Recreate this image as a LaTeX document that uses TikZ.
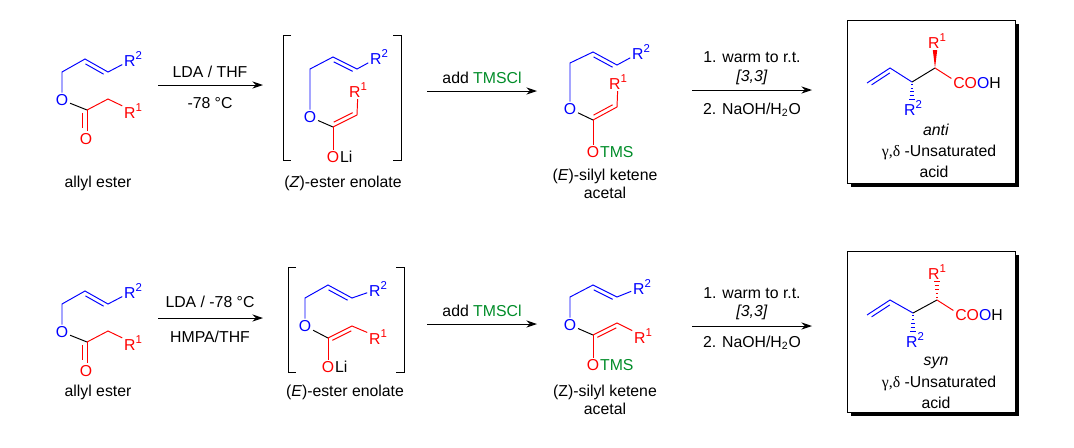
\documentclass[tikz,border=0pt]{standalone}
\usepackage{fontspec}
\setmainfont{Liberation Sans}
\newfontfamily\greekfont{Liberation Serif}
\usetikzlibrary{arrows.meta,calc,positioning}
\definecolor{rgrp}{RGB}{255,0,0}
\definecolor{bgrp}{RGB}{0,0,255}
\definecolor{tmsgrn}{RGB}{0,140,40}
% second line of a double bond: colour, from, to, side, other side
\newcommand{\dbond}[5]{\draw[#1,shorten <=1.6pt,shorten >=1.6pt] ($(#2)!2.3pt!#4:(#3)$) -- ($(#3)!2.3pt!#5:(#2)$);}
% superscript index of an R group
\newcommand{\rsup}[1]{\raisebox{0.8ex}{\fontsize{6.5}{7}\selectfont #1}}
\tikzset{
  atom/.style={inner sep=0.8pt},
  tail/.style={inner sep=0pt,anchor=base west},
  rxn/.style={-{Stealth[length=6pt,width=4pt]}},
}

\begin{document}
\begin{tikzpicture}[x=0.02cm,y=-0.02cm,line width=0.55pt,font=\fontsize{9}{10}\selectfont]
        \useasboundingbox (0,0) rectangle (1074,447);

        % ===== top row =====
        % allyl ester
        \node[atom,text=bgrp] (tAo) at (62,100) {O};
        \coordinate (tA1) at (62,72);
        \coordinate (tA2) at (85,59);
        \coordinate (tA3) at (108,72);
        \node[atom,text=bgrp] (tAr2) at (133,59) {R\rsup{2}};
        \coordinate (tAc) at (87,110);
        \coordinate (tA4) at (108,99);
        \node[atom,text=rgrp] (tAr1) at (133,111) {R\rsup{1}};
        \node[atom,text=rgrp] (tAco) at (86,139) {O};
        \coordinate (tAe) at (87,131);
        \draw[bgrp] (tAo) -- (tA1) -- (tA2) -- (tA3) -- (tAr2);
        \dbond{bgrp}{tA2}{tA3}{-90}{90}
        \draw (tAo) -- (tAc);
        \draw[rgrp] (tAc) -- (tA4) -- (tAr1);
        \draw[rgrp] (tAc) -- (tAe);
        \dbond{rgrp}{tAc}{tAe}{-90}{90}
        \node (tAlbl) at (98,183) {allyl ester};

        % arrow 1
        \coordinate (tR1s) at (158,85);
        \coordinate (tR1e) at (263,85);
        \draw[rxn] (tR1s) -- (tR1e);
        \node (tR1a) at (210,72) {LDA / THF};
        \node (tR1b) at (210,103) {-78 °C};

        % (Z)-ester enolate
        \draw (291,35) -- (283,35) -- (283,160) -- (291,160);
        \draw (393,35) -- (401,35) -- (401,160) -- (393,160);
        \coordinate (tB1) at (310,69);
        \coordinate (tB2) at (333,57);
        \coordinate (tB3) at (357,69);
        \node[atom,text=bgrp] (tBr2) at (379,57) {R\rsup{2}};
        \node[atom,text=bgrp] (tBo) at (310,117) {O};
        \coordinate (tBc) at (333,127);
        \coordinate (tB4) at (357,115);
        \node[atom,text=rgrp] (tBr1) at (358,90) {R\rsup{1}};
        \node[atom,text=rgrp] (tBol) at (333,157) {O};
        \node[tail] (tBli) at ([xshift=-0.8pt]tBol.base east) {Li};
        \draw[bgrp] (tBo) -- (tB1) -- (tB2) -- (tB3) -- (tBr2);
        \dbond{bgrp}{tB2}{tB3}{-90}{90}
        \draw (tBo) -- (tBc);
        \draw[rgrp] (tBc) -- (tB4) -- (tBr1);
        \dbond{rgrp}{tBc}{tB4}{90}{-90}
        \draw[rgrp] (tBc) -- (tBol);
        \node (tBlbl) at (343,183) {(\textit{Z})-ester enolate};

        % arrow 2
        \coordinate (tR2s) at (427,91);
        \coordinate (tR2e) at (537,91);
        \draw[rxn] (tR2s) -- (tR2e);
        \node (tR2a) at (482,78) {add \textcolor{tmsgrn}{TMSCl}};

        % (E)-silyl ketene acetal
        \coordinate (tC1) at (570,63);
        \coordinate (tC2) at (593,52);
        \coordinate (tC3) at (617,65);
        \node[atom,text=bgrp] (tCr2) at (641,52) {R\rsup{2}};
        \node[atom,text=bgrp] (tCo) at (570,109) {O};
        \coordinate (tCc) at (593,120);
        \coordinate (tC4) at (617,107);
        \node[atom,text=rgrp] (tCr1) at (618,82) {R\rsup{1}};
        \node[atom,text=rgrp] (tCol) at (593,152) {O};
        \node[tail,text=tmsgrn] (tCtms) at ([xshift=-0.8pt]tCol.base east) {TMS};
        \draw[bgrp] (tCo) -- (tC1) -- (tC2) -- (tC3) -- (tCr2);
        \dbond{bgrp}{tC2}{tC3}{-90}{90}
        \draw (tCo) -- (tCc);
        \draw[rgrp] (tCc) -- (tC4) -- (tCr1);
        \dbond{rgrp}{tCc}{tC4}{90}{-90}
        \draw[rgrp] (tCc) -- (tCol);
        \node[align=center] (tClbl) at (605,184) {(\textit{E})-silyl ketene\\acetal};

        % arrow 3
        \coordinate (tR3s) at (692,90);
        \coordinate (tR3e) at (812,90);
        \draw[rxn] (tR3s) -- (tR3e);
        \node (tR3a) at (752,57) {1. warm to r.t.};
        \node (tR3b) at (752,77) {\textit{[3,3]}};
        \node (tR3c) at (752,110) {2. NaOH/H\textsubscript{2}O};

        % anti product
        \fill (851,24) rectangle (1019,187);
        \draw[fill=white] (847,20) rectangle (1015,183);
        \coordinate (tDv1) at (867,83);
        \coordinate (tDv2) at (890,68);
        \coordinate (tD3) at (912,82);
        \coordinate (tD2) at (935,68);
        \node[atom] (tDacid) at (977,83) {\textcolor{rgrp}{CO}\textcolor{bgrp}{O}H};
        \coordinate (tDw) at (935,50);
        \node[atom,text=rgrp] (tDr1) at (937,41) {R\rsup{1}};
        \coordinate (tDh) at (912,100);
        \node[atom,text=bgrp] (tDr2) at (913,108) {R\rsup{2}};
        \draw[bgrp] (tDv1) -- (tDv2) -- (tD3);
        \dbond{bgrp}{tDv1}{tDv2}{-90}{90}
        \draw (tD3) -- (tD2);
        \draw[rgrp] (tD2) -- (tDacid.170);
        \fill[rgrp] (tD2) -- ($(tDw)+(-2.2,0)$) -- ($(tDw)+(2.2,0)$) -- cycle;
        \foreach \t/\w in {0.15/0.8,0.35/1.3,0.55/1.8,0.75/2.3,0.95/2.8} {
          \draw[bgrp] ($(tD3)!\t!(tDh)$) ++(-\w,0) -- ++(2*\w,0);
        }
        \node (tDa) at (936,130) {\textit{anti}};
        \node (tDb) at (939,152) {{\greekfont γ,δ} -Unsaturated};
        \node (tDc) at (934,172) {acid};

        % ===== bottom row =====
        % allyl ester
        \node[atom,text=bgrp] (bAo) at (62,332) {O};
        \coordinate (bA1) at (62,304);
        \coordinate (bA2) at (85,291);
        \coordinate (bA3) at (108,304);
        \node[atom,text=bgrp] (bAr2) at (133,291) {R\rsup{2}};
        \coordinate (bAc) at (87,342);
        \coordinate (bA4) at (108,331);
        \node[atom,text=rgrp] (bAr1) at (133,343) {R\rsup{1}};
        \node[atom,text=rgrp] (bAco) at (86,371) {O};
        \coordinate (bAe) at (87,363);
        \draw[bgrp] (bAo) -- (bA1) -- (bA2) -- (bA3) -- (bAr2);
        \dbond{bgrp}{bA2}{bA3}{-90}{90}
        \draw (bAo) -- (bAc);
        \draw[rgrp] (bAc) -- (bA4) -- (bAr1);
        \draw[rgrp] (bAc) -- (bAe);
        \dbond{rgrp}{bAc}{bAe}{-90}{90}
        \node (bAlbl) at (98,392) {allyl ester};

        % arrow 1
        \coordinate (bR1s) at (158,318);
        \coordinate (bR1e) at (263,318);
        \draw[rxn] (bR1s) -- (bR1e);
        \node (bR1a) at (210,302) {LDA / -78 °C};
        \node (bR1b) at (210,337) {HMPA/THF};

        % (E)-ester enolate
        \draw (296,267) -- (288,267) -- (288,372) -- (296,372);
        \draw (396,267) -- (404,267) -- (404,372) -- (396,372);
        \coordinate (bB1) at (305,298);
        \coordinate (bB2) at (328,285);
        \coordinate (bB3) at (352,298);
        \node[atom,text=bgrp] (bBr2) at (378,289) {R\rsup{2}};
        \node[atom,text=bgrp] (bBo) at (305,326) {O};
        \coordinate (bBc) at (328,338);
        \coordinate (bB4) at (352,326);
        \node[atom,text=rgrp] (bBr1) at (378,337) {R\rsup{1}};
        \node[atom,text=rgrp] (bBol) at (328,367) {O};
        \node[tail] (bBli) at ([xshift=-0.8pt]bBol.base east) {Li};
        \draw[bgrp] (bBo) -- (bB1) -- (bB2) -- (bB3) -- (bBr2);
        \dbond{bgrp}{bB2}{bB3}{-90}{90}
        \draw (bBo) -- (bBc);
        \draw[rgrp] (bBc) -- (bB4) -- (bBr1);
        \dbond{rgrp}{bBc}{bB4}{-90}{90}
        \draw[rgrp] (bBc) -- (bBol);
        \node (bBlbl) at (345,392) {(\textit{E})-ester enolate};

        % arrow 2
        \coordinate (bR2s) at (427,324);
        \coordinate (bR2e) at (537,324);
        \draw[rxn] (bR2s) -- (bR2e);
        \node (bR2a) at (482,311) {add \textcolor{tmsgrn}{TMSCl}};

        % (Z)-silyl ketene acetal
        \coordinate (bC1) at (570,297);
        \coordinate (bC2) at (593,285);
        \coordinate (bC3) at (617,297);
        \node[atom,text=bgrp] (bCr2) at (642,287) {R\rsup{2}};
        \node[atom,text=bgrp] (bCo) at (570,325) {O};
        \coordinate (bCc) at (593,335);
        \coordinate (bC4) at (617,323);
        \node[atom,text=rgrp] (bCr1) at (643,336) {R\rsup{1}};
        \node[atom,text=rgrp] (bCol) at (593,365) {O};
        \node[tail,text=tmsgrn] (bCtms) at ([xshift=-0.8pt]bCol.base east) {TMS};
        \draw[bgrp] (bCo) -- (bC1) -- (bC2) -- (bC3) -- (bCr2);
        \dbond{bgrp}{bC2}{bC3}{-90}{90}
        \draw (bCo) -- (bCc);
        \draw[rgrp] (bCc) -- (bC4) -- (bCr1);
        \dbond{rgrp}{bCc}{bC4}{-90}{90}
        \draw[rgrp] (bCc) -- (bCol);
        \node[align=center] (bClbl) at (605,400) {(Z)-silyl ketene\\acetal};

        % arrow 3
        \coordinate (bR3s) at (692,326);
        \coordinate (bR3e) at (812,326);
        \draw[rxn] (bR3s) -- (bR3e);
        \node (bR3a) at (752,293) {1. warm to r.t.};
        \node (bR3b) at (752,312) {\textit{[3,3]}};
        \node (bR3c) at (752,343) {2. NaOH/H\textsubscript{2}O};

        % syn product
        \fill (851,255) rectangle (1019,416);
        \draw[fill=white] (847,251) rectangle (1015,412);
        \coordinate (bDv1) at (867,315);
        \coordinate (bDv2) at (890,300);
        \coordinate (bD3) at (913,313);
        \coordinate (bD2) at (937,300);
        \node[atom] (bDacid) at (979,315) {\textcolor{rgrp}{CO}\textcolor{bgrp}{O}H};
        \coordinate (bDw) at (937,281);
        \node[atom,text=rgrp] (bDr1) at (937,272) {R\rsup{1}};
        \coordinate (bDh) at (913,332);
        \node[atom,text=bgrp] (bDr2) at (915,340) {R\rsup{2}};
        \draw[bgrp] (bDv1) -- (bDv2) -- (bD3);
        \dbond{bgrp}{bDv1}{bDv2}{-90}{90}
        \draw (bD3) -- (bD2);
        \draw[rgrp] (bD2) -- (bDacid.170);
        \foreach \t/\w in {0.15/0.8,0.35/1.3,0.55/1.8,0.75/2.3,0.95/2.8} {
          \draw[rgrp] ($(bD2)!\t!(bDw)$) ++(-\w,0) -- ++(2*\w,0);
          \draw[bgrp] ($(bD3)!\t!(bDh)$) ++(-\w,0) -- ++(2*\w,0);
        }
        \node (bDa) at (936,363) {\textit{syn}};
        \node (bDb) at (939,383) {{\greekfont γ,δ} -Unsaturated};
        \node (bDc) at (936,403) {acid};
    \end{tikzpicture}
\end{document}
